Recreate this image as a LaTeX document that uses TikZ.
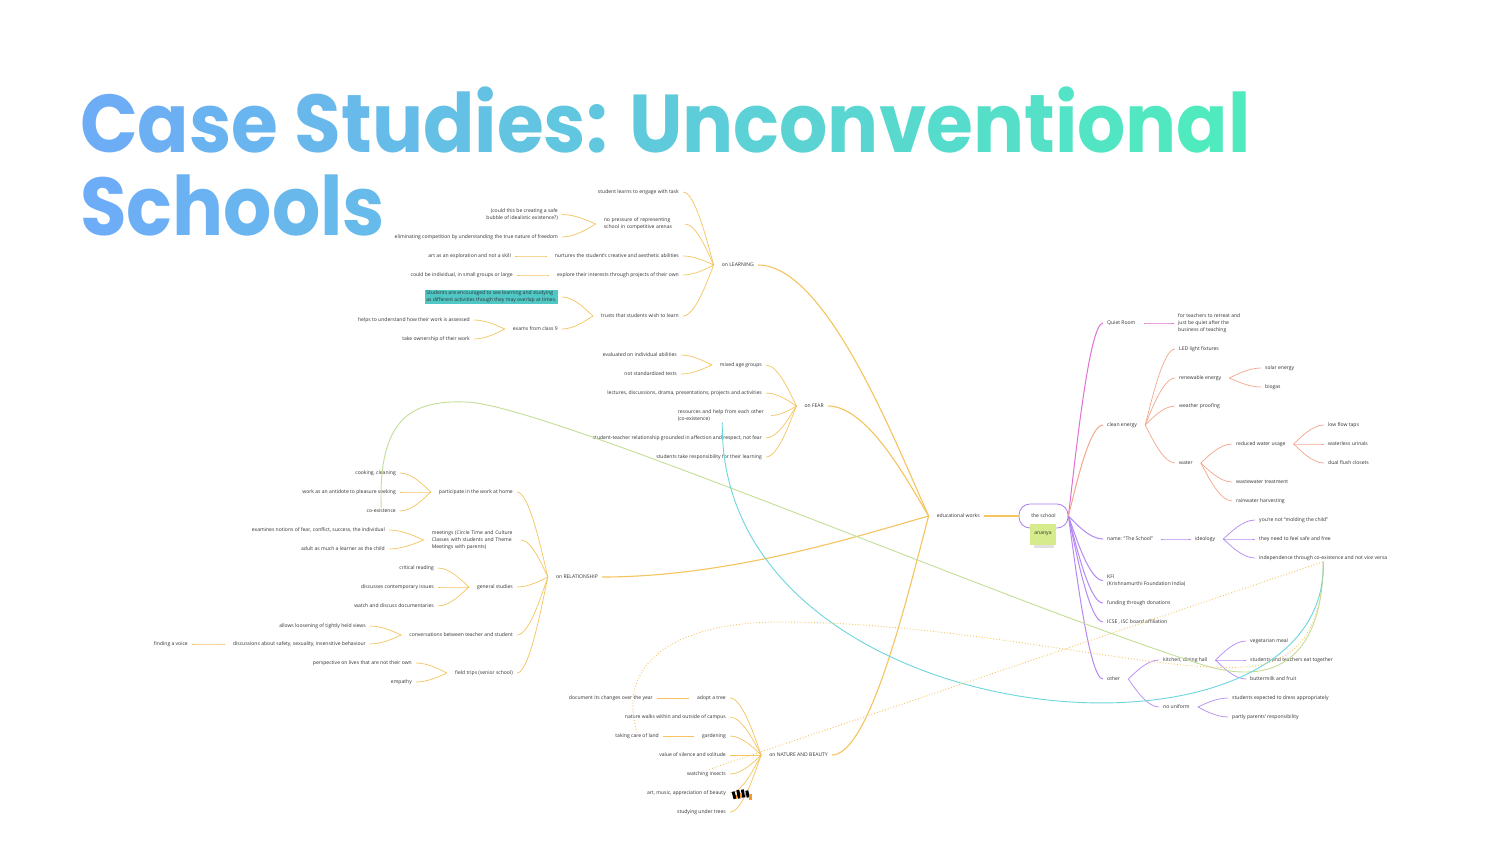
\documentclass[tikz,border=0pt]{standalone}
\usepackage{graphicx}
\usepackage{fontspec}
\setmainfont{Open Sans}
\newfontfamily\titlefont{Poppins}
\usetikzlibrary{calc}
\definecolor{yel}{HTML}{F5C45E}
\definecolor{pinkc}{HTML}{E070D2}
\definecolor{salm}{HTML}{F4A68C}
\definecolor{purp}{HTML}{B58AF2}
\definecolor{schoolc}{HTML}{A87EF0}
\definecolor{greenl}{HTML}{C3DE97}
\definecolor{cyanl}{HTML}{6DD6DD}
\definecolor{hlc}{HTML}{4FC8C6}
\definecolor{sticky}{HTML}{D6EC8C}
\definecolor{txt}{HTML}{333333}
\definecolor{bluec}{HTML}{6EABF8}
\definecolor{mintc}{HTML}{4FEBBE}
\definecolor{iconor}{HTML}{F09A30}
\newcommand\gl[2]{\textcolor{mintc!#1!bluec}{#2}}
\newcommand\cn[3]{\draw[#1] let \p1=(#2), \p2=(#3) in (\p1) .. controls ({\x1+0.2*(\x2-\x1)},{\y1+0.3*(\y2-\y1)}) and ({\x1+0.6*(\x2-\x1)},{\y2}) .. (\p2);}
\newcommand\fanL[3]{\foreach \c in {#3}{\cn{#1}{[xshift=-4pt]#2.west}{\c.east}}}
\newcommand\fanR[3]{\foreach \c in {#3}{\cn{#1}{[xshift=4pt]#2.east}{\c.west}}}
\tikzset{
  mm/.style={font=\fontsize{5.05}{7.2}\selectfont, text=txt, inner xsep=4pt, inner ysep=1pt},
  lt/.style={mm, anchor=east},
  rt/.style={mm, anchor=west},
  yl/.style={draw=yel, line width=0.7pt},
  ylm/.style={draw=yel, line width=1.1pt},
  pk/.style={draw=pinkc, line width=0.7pt},
  pkm/.style={draw=pinkc, line width=1pt},
  sa/.style={draw=salm, line width=0.7pt},
  sam/.style={draw=salm, line width=1pt},
  pu/.style={draw=purp, line width=0.7pt},
  pum/.style={draw=purp, line width=1pt},
  linkg/.style={draw=greenl, line width=0.9pt},
  linkc/.style={draw=cyanl, line width=0.9pt},
  linkd/.style={draw=yel, line width=0.9pt, dotted},
  ttl/.style={anchor=base west, inner sep=0, font=\titlefont\bfseries\fontsize{82}{82}\selectfont},
}
\begin{document}
\begin{tikzpicture}[x=1pt,y=-1pt]
\fill[white] (0,0) rectangle (1500,844);
\useasboundingbox (0,0) rectangle (1500,844);

% title
\node[ttl] (t1) at (80,152)
 {\scalebox{0.925}[1]{\gl{3}{C}\gl{8}{a}\gl{12}{s}\gl{15}{e} \gl{20}{S}\gl{24}{t}\gl{27}{u}\gl{32}{d}\gl{36}{i}\gl{39}{e}\gl{42}{s}\gl{44}{:} \gl{49}{U}\gl{54}{n}\gl{59}{c}\gl{63}{o}\gl{68}{n}\gl{72}{v}\gl{76}{e}\gl{81}{n}\gl{85}{t}\gl{87}{i}\gl{91}{o}\gl{95}{n}\gl{98}{a}\gl{100}{l}}};
\node[ttl] (t2) at (80,235)
 {\scalebox{0.925}[1]{\gl{2}{S}\gl{7}{c}\gl{11}{h}\gl{15}{o}\gl{20}{o}\gl{23}{l}\gl{25}{s}}};

% ---------- left side ----------
\node[lt] (ecw) at (984,516) {educational works};
\node[lt] (learn) at (758,265) {on LEARNING};
\node[lt] (l1) at (683,192) {student learns to engage with task};
\node[lt, text width=77pt, align=left] (l2) at (685,224) {no pressure of representing\\school in competitive arenas};
\node[lt, align=right] (l2a) at (562,214.5) {(could this be creating a safe\\bubble of idealistic existence?)};
\node[lt] (l2b) at (562,237) {eliminating competition by understanding the true nature of freedom};
\node[lt] (l3) at (683,256) {nurtures the student's creative and aesthetic abilities};
\node[lt] (l3a) at (515,256) {art as an exploration and not a skill};
\node[lt] (l4) at (683,275) {explore their interests through projects of their own};
\node[lt] (l4a) at (517,275) {could be individual, in small groups or large};
\node[lt] (l5) at (683,316) {trusts that students wish to learn};
\node[lt, align=left, fill=hlc, inner xsep=1.5pt, inner ysep=0.8pt] (l5a) at (558,297) {Students are encouraged to see learning and studying\\as different activities though they may overlap at times.};
\node[lt] (l5b) at (562,329) {exams from class 9};
\node[lt] (l5b1) at (474,320) {helps to understand how their work is assessed};
\node[lt] (l5b2) at (474,339) {take ownership of their work};

\node[lt] (fear) at (828,406) {on FEAR};
\node[lt] (f1) at (766,365) {mixed age groups};
\node[lt] (f1a) at (681,355) {evaluated on individual abilities};
\node[lt] (f1b) at (681,374) {not standardized tests};
\node[lt] (f2) at (766,393) {lectures, discussions, drama, presentations, projects and activities};
\node[lt, text width=89pt, align=left] (f3) at (771,415.5) {resources and help from each other\\(co-existence)};
\node[lt] (f4) at (766,438) {student-teacher relationship grounded in affection and respect, not fear};
\node[lt] (f5) at (766,457) {students take responsibility for their learning};

\node[lt] (rel) at (602,577) {on RELATIONSHIP};
\node[lt] (r1) at (517,492) {participate in the work at home};
\node[lt] (r1a) at (400,473) {cooking, cleaning};
\node[lt] (r1b) at (400,492) {work as an antidote to pleasure seeking};
\node[lt] (r1c) at (400,511) {co-existence};
\node[lt, text width=85pt, align=left] (r2) at (521,540) {meetings (Circle Time and Culture\\Classes with students and Theme\\Meetings with parents)};
\node[lt] (r2a) at (389,530) {examines notions of fear, conflict, success, the individual};
\node[lt] (r2b) at (389,549) {adult as much a learner as the child};
\node[lt] (r3) at (517,587) {general studies};
\node[lt] (r3a) at (438,568) {critical reading};
\node[lt] (r3b) at (438,587) {discusses contemporary issues};
\node[lt] (r3c) at (438,606) {watch and discuss documentaries};
\node[lt] (r4) at (517,635) {conversations between teacher and student};
\node[lt] (r4a) at (370,626) {allows loosening of tightly held views};
\node[lt] (r4b) at (370,644) {discussions about safety, sexuality, insensitive behaviour};
\node[lt] (r4b1) at (192,644) {finding a voice};
\node[lt] (r5) at (517,673) {field trips (senior school)};
\node[lt] (r5a) at (416,663) {perspective on lives that are not their own};
\node[lt] (r5b) at (416,682) {empathy};

\node[lt] (nat) at (832,755) {on NATURE AND BEAUTY};
\node[lt] (n1) at (730,698) {adopt a tree};
\node[lt] (n1a) at (657,698) {document its changes over the year};
\node[lt] (n2) at (730,717) {nature walks within and outside of campus};
\node[lt] (n3) at (730,736) {gardening};
\node[lt] (n3a) at (663,736) {taking care of land};
\node[lt] (n4) at (730,755) {value of silence and solitude};
\node[lt] (n5) at (730,774) {watching insects};
\node[lt] (n6) at (730,793) {art, music, appreciation of beauty};
\node[lt] (n7) at (730,812) {studying under trees};

% ---------- right side ----------
\node[draw=schoolc, line width=0.8pt, rounded corners=11pt, minimum width=49pt, minimum height=24pt, mm, inner xsep=0pt] (school) at (1043.5,516) {the school};
\node[rt] (quiet) at (1103,323) {Quiet Room};
\node[rt, align=left] (q1) at (1174,323) {for teachers to retreat and\\just be quiet after the\\business of teaching};
\node[rt] (clean) at (1103,425) {clean energy};
\node[rt] (c1) at (1175,349) {LED light fixtures};
\node[rt] (c2) at (1175,378) {renewable energy};
\node[rt] (c2a) at (1261,368) {solar energy};
\node[rt] (c2b) at (1261,387) {biogas};
\node[rt] (c3) at (1175,406) {weather proofing};
\node[rt] (c4) at (1175,463) {water};
\node[rt] (c4a) at (1232,444) {reduced water usage};
\node[rt] (c4a1) at (1324,425) {low flow taps};
\node[rt] (c4a2) at (1324,444) {waterless urinals};
\node[rt] (c4a3) at (1324,463) {dual flush closets};
\node[rt] (c4b) at (1232,482) {wastewater treatment};
\node[rt] (c4c) at (1232,501) {rainwater harvesting};
\node[rt] (name) at (1103,539) {name: \textquotedblleft The School\textquotedblright};
\node[rt] (ideo) at (1191,539) {ideology};
\node[rt] (i1) at (1255,520) {you're not \textquotedblleft molding the child\textquotedblright};
\node[rt] (i2) at (1255,539) {they need to feel safe and free};
\node[rt] (i3) at (1255,558) {independence through co-existence and not vice versa};
\node[rt, align=left] (kfi) at (1103,580.5) {KFI\\(Krishnamurthi Foundation India)};
\node[rt] (fund) at (1103,603) {funding through donations};
\node[rt] (icse) at (1103,622) {ICSE , ISC board affiliation};
\node[rt] (other) at (1103,679) {other};
\node[rt] (o1) at (1159,660) {kitchen, dining hall};
\node[rt] (o1a) at (1246,641) {vegetarian meal};
\node[rt] (o1b) at (1246,660) {students and teachers eat together};
\node[rt] (o1c) at (1246,679) {buttermilk and fruit};
\node[rt] (o2) at (1159,707) {no uniform};
\node[rt] (o2a) at (1228,698) {students expected to dress appropriately};
\node[rt] (o2b) at (1228,717) {partly parents' responsibility};

% sticky note
\fill[black, opacity=0.12] (1034,544) rectangle (1054,548);
\node[fill=sticky, minimum width=20pt, minimum height=21pt, inner sep=0pt, mm] (stick) at (1043,534) {ananya};

% ---------- connectors ----------
\draw[ylm] (ecw.east) -- (school.west);
\fanL{ylm}{ecw}{learn,fear,rel,nat}
\fanL{yl}{learn}{l1,l2,l3,l4,l5}
\fanL{yl}{l2}{l2a,l2b}
\fanL{yl}{l3}{l3a}
\fanL{yl}{l4}{l4a}
\fanL{yl}{l5}{l5b}
\cn{yl}{[xshift=-4pt]l5.west}{[xshift=4pt]l5a.east}
\fanL{yl}{l5b}{l5b1,l5b2}
\fanL{yl}{fear}{f1,f2,f3,f4,f5}
\fanL{yl}{f1}{f1a,f1b}
\fanL{yl}{rel}{r1,r2,r3,r4,r5}
\fanL{yl}{r1}{r1a,r1b,r1c}
\fanL{yl}{r2}{r2a,r2b}
\fanL{yl}{r3}{r3a,r3b,r3c}
\fanL{yl}{r4}{r4a,r4b}
\fanL{yl}{r4b}{r4b1}
\fanL{yl}{r5}{r5a,r5b}
\fanL{yl}{nat}{n1,n2,n3,n4,n5,n6,n7}
\fanL{yl}{n1}{n1a}
\fanL{yl}{n3}{n3a}

\cn{pkm}{school.east}{quiet.west}
\cn{sam}{school.east}{clean.west}
\foreach \c in {name,kfi,fund,icse,other}{\cn{pum}{school.east}{\c.west}}
\fanR{pk}{quiet}{q1}
\fanR{sa}{clean}{c1,c2,c3,c4}
\fanR{sa}{c2}{c2a,c2b}
\fanR{sa}{c4}{c4a,c4b,c4c}
\fanR{sa}{c4a}{c4a1,c4a2,c4a3}
\fanR{pu}{name}{ideo}
\fanR{pu}{ideo}{i1,i2,i3}
\fanR{pu}{other}{o1,o2}
\fanR{pu}{o1}{o1a,o1b,o1c}
\fanR{pu}{o2}{o2a,o2b}

% ---------- relationships ----------
\draw[linkg] (r1c.north) .. controls (378,420) and (410,400) .. (465,402)
  .. controls (540,402) and (1000,600) .. (1200,664)
  .. controls (1290,693) and (1323,640) .. (i3.south);
\draw[linkc] (f3.south) .. controls (718,740) and (1330,790) .. (i3.south);
\draw[linkd] (n3a.north) .. controls (615,660) and (680,622) .. (780,622)
  .. controls (980,622) and (1180,680) .. (1260,665)
  .. controls (1310,655) and (1323,610) .. (i3.south);
\draw[linkd] (n5.north) -- (i3.south);

% icon (stack of books)
\fill[black, rotate around={15:(734,795)}] (732.5,791.5) rectangle (735.5,799);
\fill[black, rotate around={10:(738.5,794)}] (737,790) rectangle (740,798.5);
\fill[black, rotate around={8:(743,793.5)}] (741.5,789.5) rectangle (744.5,797.5);
\fill[black, rotate around={12:(747.5,794)}] (746,790.5) rectangle (749,797.5);
\fill[iconor] (735.5,795) rectangle (737,799);
\fill[iconor] (740,793) rectangle (741.5,798);
\fill[iconor] (744.5,792) rectangle (746,797);
\fill[iconor] (748.5,793.5) rectangle (752,800);
\end{tikzpicture}
\end{document}
